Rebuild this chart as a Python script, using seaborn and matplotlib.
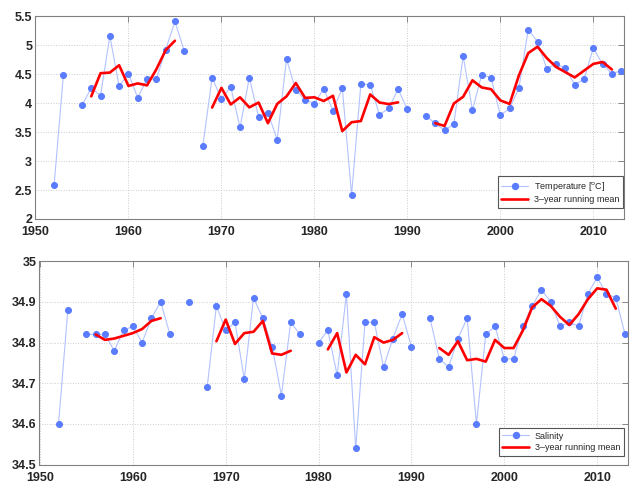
#!/usr/bin/env python3
"""
Ocean temperature and salinity time series with 3-year running means
"""

import numpy as np
import pandas as pd
import seaborn as sns
import matplotlib.pyplot as plt
from matplotlib.lines import Line2D

nan = np.nan

years = list(range(1952, 2014))

temperature = [
    2.58, 4.48, nan, 3.96, 4.26, 4.13, 5.16, 4.29, 4.51, 4.09,   # 1952-1961
    4.42, 4.41, 4.92, 5.41, 4.90, nan, 3.26, 4.44, 4.07, 4.28,   # 1962-1971
    3.58, 4.44, 3.76, 3.83, 3.37, 4.76, 4.22, 4.06, 3.99, 4.25,  # 1972-1981
    3.87, 4.26, 2.42, 4.33, 4.32, 3.80, 3.91, 4.24, 3.89, nan,   # 1982-1991
    3.78, 3.65, 3.53, 3.64, 4.81, 3.88, 4.49, 4.44, 3.79, 3.91,  # 1992-2001
    4.26, 5.27, 5.06, 4.59, 4.68, 4.60, 4.32, 4.41, 4.95, 4.67,  # 2002-2011
    4.51, 4.56,                                                  # 2012-2013
]

salinity = [
    34.60, 34.88, nan, 34.82, 34.82, 34.82, 34.78, 34.83, 34.84, 34.80,    # 1952-1961
    34.86, 34.90, 34.82, nan, 34.90, nan, 34.69, 34.89, 34.83, 34.85,      # 1962-1971
    34.71, 34.91, 34.86, 34.79, 34.67, 34.85, 34.82, nan, 34.80, 34.83,    # 1972-1981
    34.72, 34.92, 34.54, 34.85, 34.85, 34.74, 34.81, 34.87, 34.79, nan,    # 1982-1991
    34.86, 34.76, 34.74, 34.81, 34.86, 34.60, 34.82, 34.84, 34.76, 34.76,  # 1992-2001
    34.84, 34.89, 34.93, 34.90, 34.84, 34.85, 34.84, 34.92, 34.96, 34.92,  # 2002-2011
    34.91, 34.82,                                                          # 2012-2013
]

x_ticks = [1950, 1960, 1970, 1980, 1990, 2000, 2010]
temp_ticks = [2, 2.5, 3, 3.5, 4, 4.5, 5, 5.5]
sal_ticks = [34.5, 34.6, 34.7, 34.8, 34.9, 35]

BLUE = '#5a7cff'
LIGHT_BLUE = '#b3c2ff'
RED = '#ff0000'


def segments(df, col):
    """Split a series into gap-free pieces so lines break at missing years"""
    out = df[['year', col]].copy()
    out['seg'] = out[col].isna().cumsum()
    return out.dropna()


def draw_panel(ax, df, col, label, yticks, legend_anchor):
    df = df.copy()
    df['mean3'] = df[col].rolling(3, center=True).mean()

    raw = segments(df, col)
    sns.lineplot(data=raw, x='year', y=col, units='seg', estimator=None,
                 ax=ax, color=LIGHT_BLUE, lw=0.8, marker='o', markersize=4.3,
                 markerfacecolor=BLUE, markeredgecolor=BLUE, legend=False)

    run = segments(df, 'mean3')
    sns.lineplot(data=run, x='year', y='mean3', units='seg', estimator=None,
                 ax=ax, color=RED, lw=1.9, legend=False)

    ax.set_xlim(1949.95, 2013.3)
    ax.set_ylim(yticks[0], yticks[-1])
    ax.set_xticks(x_ticks)
    ax.set_yticks(yticks)
    ax.set_yticklabels([f'{t:g}' for t in yticks])
    ax.set_xlabel('')
    ax.set_ylabel('')
    ax.tick_params(direction='in', length=4, width=0.6, color='#777777',
                   top=True, right=True, labelsize=9, pad=2)
    ax.tick_params(axis='x', pad=5)
    for t in ax.get_xticklabels() + ax.get_yticklabels():
        t.set_fontweight('bold')
    for s in ax.spines.values():
        s.set_color('#808080')
        s.set_linewidth(0.8)
    ax.grid(True, linestyle=':', color='#cccccc', linewidth=0.7)

    handles = [
        Line2D([], [], color=LIGHT_BLUE, lw=0.8, marker='o', markersize=4.3,
               markerfacecolor=BLUE, markeredgecolor=BLUE),
        Line2D([], [], color=RED, lw=1.9),
    ]
    leg = ax.legend(handles, [label, '3\u2013year running mean'],
                    loc='lower right', bbox_to_anchor=legend_anchor,
                    borderaxespad=0, fontsize=6.5, handlelength=3,
                    fancybox=False, framealpha=1, borderpad=0.4,
                    labelspacing=0.3, handletextpad=0.6)
    leg.get_frame().set_edgecolor('#555555')
    leg.get_frame().set_linewidth(0.8)


def main():
    df = pd.DataFrame({'year': years, 'temperature': temperature,
                       'salinity': salinity})

    sns.set_style("white")
    plt.rcParams['font.family'] = ['Liberation Sans', 'DejaVu Sans']

    fig = plt.figure(figsize=(6.4, 4.91), dpi=100)
    ax1 = fig.add_axes([0.0547, 0.554, 0.9203, 0.413])
    ax2 = fig.add_axes([0.0617, 0.0536, 0.9193, 0.4144])

    draw_panel(ax1, df, 'temperature', 'Temperature [$^{\\mathrm{o}}$C]',
               temp_ticks, (0.998, 0.054))
    draw_panel(ax2, df, 'salinity', 'Salinity', sal_ticks, (0.993, 0.043))

    fig.savefig('out.png', dpi=100)


if __name__ == "__main__":
    main()
